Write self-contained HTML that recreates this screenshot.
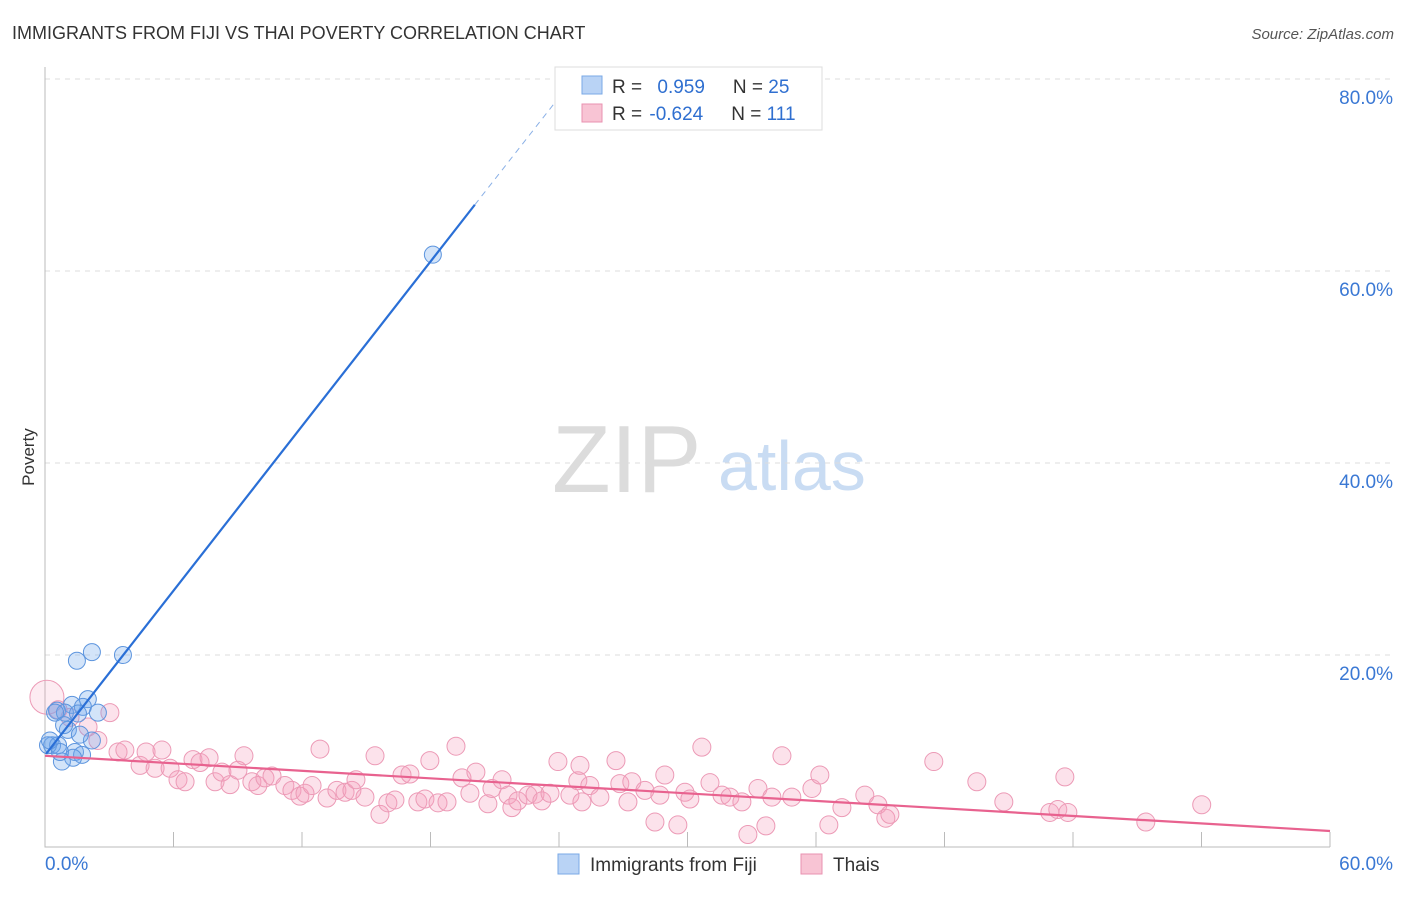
<!DOCTYPE html>
<html><head><meta charset="utf-8"><style>
body{margin:0;background:#fff;font-family:"Liberation Sans",sans-serif;}
svg text{font-family:"Liberation Sans",sans-serif;}
</style></head><body>
<svg id="c" width="1406" height="892">
<text x="12" y="39" font-size="18" fill="#333">IMMIGRANTS FROM FIJI VS THAI POVERTY CORRELATION CHART</text>
<text x="1394" y="39" font-size="15" fill="#555" font-style="italic" text-anchor="end">Source: ZipAtlas.com</text>
<text x="34" y="457" font-size="17" fill="#333" transform="rotate(-90 34 457)" text-anchor="middle">Poverty</text>
<g>
<text x="552" y="492" font-size="96" fill="#dcdcdc" font-family="Liberation Serif,serif">ZIP</text>
<text x="718" y="490" font-size="70" fill="#c9dcf3">atlas</text>
</g>
<g id="grid"></g><g id="marks"></g><g id="trend"></g>
<g>
<rect x="555" y="67" width="267" height="63" fill="#fff" stroke="#ddd"/>
<rect x="582" y="76" width="20" height="18" fill="#b9d3f5" stroke="#7aa8e6"/>
<rect x="582" y="104" width="20" height="18" fill="#f8c4d4" stroke="#e992b0"/>
<text x="612" y="93" font-size="19" fill="#333">R = <tspan fill="#2f6fd0" dx="10">0.959</tspan><tspan dx="28" fill="#333">N = </tspan><tspan fill="#2f6fd0">25</tspan></text>
<text x="612" y="120" font-size="19" fill="#333">R = <tspan fill="#2f6fd0" dx="2">-0.624</tspan><tspan dx="28" fill="#333">N = </tspan><tspan fill="#2f6fd0">111</tspan></text>
</g>
<g>
<rect x="558" y="854" width="21" height="20" fill="#b9d3f5" stroke="#7aa8e6"/>
<text x="590" y="871" font-size="19" fill="#333">Immigrants from Fiji</text>
<rect x="801" y="854" width="21" height="20" fill="#f8c4d4" stroke="#e992b0"/>
<text x="833" y="871" font-size="19" fill="#333">Thais</text>
</g>
</svg>
<script>
const yTicks=[20,40,60,80];
const yTickLabels=["20.0%","40.0%","60.0%","80.0%"];
const xTickLabels=["0.0%","60.0%"];
const fijiX=[1.49,2.19,3.64,18.11,2.0,1.26,1.77,0.56,0.93,1.54,1.07,2.19,0.33,0.61,0.14,1.4,1.73,1.31,0.79,0.47,2.47,0.89,1.63,0.23,0.7];
const fijiY=[19.4,20.3,20.0,61.7,15.4,14.8,14.6,14.2,14.0,13.9,12.2,11.1,10.6,10.6,10.6,9.9,9.6,9.3,8.9,14.0,14.0,12.7,11.7,11.1,9.9];
const thaiX=[0.09,0.61,1.17,2.01,3.03,2.47,3.41,3.73,4.44,4.72,5.14,5.46,5.84,6.21,6.54,6.91,7.24,7.66,7.94,8.26,8.64,9.01,9.29,9.66,9.94,10.27,10.6,11.2,11.53,11.9,12.14,12.47,12.84,13.17,13.63,14.01,14.33,14.52,14.94,15.41,15.64,16.01,16.34,16.67,17.04,17.41,17.74,17.97,18.35,18.77,19.19,19.47,19.84,20.12,20.68,20.87,21.34,21.62,21.8,22.08,22.55,22.88,23.2,23.58,23.95,24.51,24.88,25.07,25.44,25.91,26.66,26.84,27.22,27.4,28.01,28.48,28.71,28.94,29.55,29.88,30.11,30.67,31.05,31.61,31.98,32.54,33.29,33.66,33.94,34.41,34.87,35.81,36.18,36.6,37.21,38.28,38.89,39.26,39.45,41.5,43.51,44.77,46.92,47.29,47.62,47.76,51.4,54.01,32.82,24.98];
const thaiY=[15.6,14.3,13.5,12.5,14.0,11.1,9.9,10.1,8.5,9.9,8.2,10.1,8.2,7.0,6.8,9.1,8.8,9.3,6.8,7.8,6.5,8.0,9.5,6.8,6.4,7.2,7.4,6.4,5.9,5.3,5.6,6.4,10.2,5.1,5.9,5.7,5.9,7.0,5.2,9.5,3.4,4.6,4.9,7.5,7.6,4.7,5.0,9.0,4.6,4.7,10.5,7.2,5.6,7.8,4.5,6.1,7.0,5.4,4.1,4.8,5.4,5.5,4.8,5.6,8.9,5.4,6.9,4.7,6.4,5.2,9.0,6.6,4.7,6.8,5.9,2.6,5.4,7.5,2.3,5.7,5.0,10.4,6.7,5.4,5.2,4.7,6.1,2.2,5.2,9.5,5.2,6.1,7.5,2.3,4.1,5.4,4.4,3.0,3.4,8.9,6.8,4.7,3.6,3.9,7.3,3.6,2.6,4.4,1.3,8.5];
const fijiTrend=[0.05,9.7,20.07,66.9,24.04,78.2];
const thaiTrend=[0,9.5,60,1.67];
const X=v=>45+v*1285/60, Y=v=>847-v*9.6;
const NS='http://www.w3.org/2000/svg';
function mk(tag,attrs,parent){const e=document.createElementNS(NS,tag);for(const k in attrs)e.setAttribute(k,attrs[k]);document.getElementById(parent).appendChild(e);return e;}
yTicks.forEach((t,i)=>{
 const l=mk('line',{x1:45,x2:1395,y1:Y(t),y2:Y(t),stroke:'#ddd','stroke-dasharray':'5,5'},'grid');
 
 
 const tx=mk('text',{x:1393,y:Y(t)+25,'font-size':19,fill:'#3a78d4','text-anchor':'end'},'grid');
 tx.textContent=yTickLabels[i];
 
 
});
const ax=mk('path',{d:'M45,67 V847 H1330',stroke:'#bbb',fill:'none'},'grid');


for(let i=1;i<=10;i++){const t=mk('line',{x1:X(i*6),x2:X(i*6),y1:832,y2:847,stroke:'#bbb'},'grid');
 
 }
[[0,'start',45],[1,'end',1393]].forEach(([i,a,x])=>{const t=mk('text',{x:x,y:870,'font-size':19,fill:'#3a78d4','text-anchor':a},'grid');t.textContent=xTickLabels[i];
 
 });
thaiX.forEach((v,i)=>{const c=mk('circle',{cx:X(v),cy:Y(thaiY[i]),r:i==0?17:9,fill:i==0?'rgba(244,160,188,0.2)':'rgba(244,160,188,0.3)',stroke:'#ec9ab6','stroke-width':1},'marks');
 
 });
fijiX.forEach((v,i)=>{const c=mk('circle',{cx:X(v),cy:Y(fijiY[i]),r:8.5,fill:'rgba(110,165,235,0.3)',stroke:'#5d95de','stroke-width':1},'marks');
 
 });
const f1=mk('line',{x1:X(fijiTrend[0]),y1:Y(fijiTrend[1]),x2:X(fijiTrend[2]),y2:Y(fijiTrend[3]),stroke:'#2a6fd6','stroke-width':2.2},'trend');


const f2=mk('line',{x1:X(fijiTrend[2]),y1:Y(fijiTrend[3]),x2:X(fijiTrend[4]),y2:Y(fijiTrend[5]),stroke:'#8ab0e6','stroke-width':1,'stroke-dasharray':'6,5'},'trend');


const t1=mk('line',{x1:X(thaiTrend[0]),y1:Y(thaiTrend[1]),x2:X(thaiTrend[2]),y2:Y(thaiTrend[3]),stroke:'#e8628f','stroke-width':2.2},'trend');


</script>
</body></html>
